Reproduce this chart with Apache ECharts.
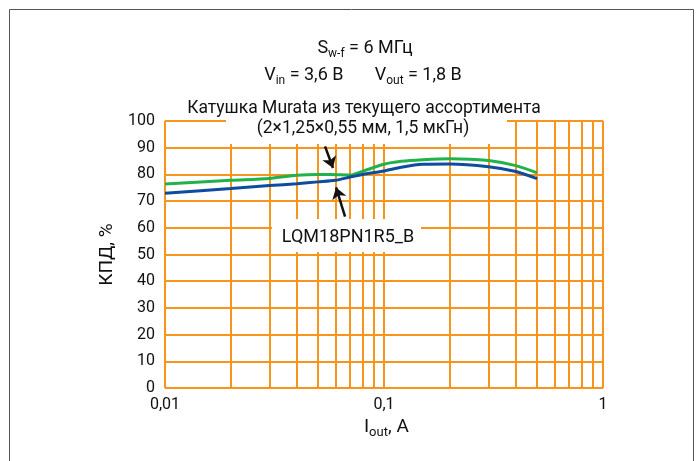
<!DOCTYPE html>
<html><head><meta charset="utf-8">
<script src="https://cdn.jsdelivr.net/npm/echarts@6/dist/echarts.min.js"></script>
<style>html,body{margin:0;padding:0;background:#fff}#c{width:700px;height:461px}</style>
</head><body><div id="c"></div>
<script>
const currents = [0.01,0.02,0.03,0.04,0.05,0.06,0.07,0.08,0.1,0.12,0.15,0.2,0.3,0.4,0.5];
const effGreen = [76.4,77.8,78.5,79.7,80.0,79.9,79.8,81.2,83.8,84.9,85.5,85.9,85.2,83.3,80.6];
const effBlue  = [72.9,74.7,75.8,76.5,77.2,77.8,79.0,80.0,81.3,82.7,83.8,83.9,82.9,81.1,78.4];
const minorX = [0.02,0.03,0.04,0.05,0.06,0.07,0.08,0.09,0.2,0.3,0.4,0.5,0.6,0.7,0.8,0.9];
const arrowDown = [[0.0538,90.5],[0.0585,82.4]];
const arrowUp = [[0.0664,64.2],[0.0604,75.1]];
const xTicks = {0.01:'0,01', 0.1:'0,1', 1:'1'};

const FONT = 'Roboto';
const ORANGE = '#f7941d';
const chart = echarts.init(document.getElementById('c'), null, {renderer:'canvas'});
const zip = (xs, ys) => xs.map((x,i)=>[x, ys[i]]);
const richSub = {
  a:{fontSize:18, color:'#111', fill:'#111', fontFamily:FONT, lineHeight:24},
  s:{fontSize:12, color:'#111', fill:'#111', fontFamily:FONT, lineHeight:10, verticalAlign:'bottom'}
};
const richAxis = {
  a:{fontSize:19, color:'#111', fontFamily:FONT, lineHeight:24},
  s:{fontSize:13, color:'#111', fontFamily:FONT, lineHeight:10, verticalAlign:'bottom'}
};

chart.setOption({
  animation:false,
  textStyle:{fontFamily:FONT},
  grid:{left:165, right:97, top:121, bottom:73, containLabel:false},
  xAxis:{
    type:'log', min:0.01, max:1, logBase:10, z:0,
    axisLine:{show:false}, axisTick:{show:false},
    splitLine:{show:true, lineStyle:{color:ORANGE, width:2}},
    axisLabel:{color:'#111', fontSize:16, margin:9, fontFamily:FONT,
      formatter:v=>{const k=Number(Number(v).toPrecision(3)); return xTicks[k]!==undefined?xTicks[k]:'';}},
    name:'{a| I}{s|out}{a|, A}', nameLocation:'middle', nameGap:27,
    nameTextStyle:{rich:richAxis}
  },
  yAxis:{
    type:'value', min:0, max:100, interval:10, z:0,
    axisLine:{show:false}, axisTick:{show:false},
    splitLine:{show:true, lineStyle:{color:ORANGE, width:2}},
    axisLabel:{color:'#111', fontSize:16, margin:10, fontFamily:FONT},
    name:'КПД, %', nameLocation:'middle', nameGap:46,
    nameTextStyle:{fontSize:19, color:'#111', fontFamily:FONT}
  },
  graphic:[
    {type:'rect', zlevel:1, z:1, shape:{x:9.5,y:9.5,width:684,height:470}, style:{fill:null, stroke:'#555', lineWidth:1}},
    {type:'rect', zlevel:1, z:1, shape:{x:226,y:92,width:281,height:52}, style:{fill:'#fff'}},
    {type:'rect', zlevel:1, z:1, shape:{x:272,y:219,width:149,height:33}, style:{fill:'#fff'}},
    {type:'text', zlevel:3, style:{x:365, y:36, textAlign:'center', textVerticalAlign:'top',
      text:'{a|S}{s|w-f}{a| = 6 МГц}', rich:richSub}},
    {type:'text', zlevel:3, style:{x:363, y:63, textAlign:'center', textVerticalAlign:'top',
      text:'{a|V}{s|in}{a| = 3,6 В       V}{s|out}{a| = 1,8 В}', rich:richSub}},
    {type:'text', zlevel:3, style:{text:'Катушка Murata из текущего ассортимента', x:364, y:109, fill:'#111',
      font:'17.5px '+FONT, textAlign:'center', textVerticalAlign:'middle'}},
    {type:'text', zlevel:3, style:{text:'(2×1,25×0,55 мм, 1,5 мкГн)', x:363, y:129, fill:'#111',
      font:'17.5px '+FONT, textAlign:'center', textVerticalAlign:'middle'}},
    {type:'text', zlevel:3, style:{text:'LQM18PN1R5_B', x:348, y:237, fill:'#111',
      font:'18px '+FONT, textAlign:'center', textVerticalAlign:'middle'}}
  ],
  series:[
    {type:'line', z:0, data:[], silent:true,
     markLine:{silent:true, symbol:'none', label:{show:false},
       lineStyle:{color:ORANGE, width:2, type:'solid'},
       data:minorX.map(x=>({xAxis:x}))}},
    {type:'line', zlevel:2, z:3, data:zip(currents, effGreen), smooth:0.25, symbol:'none',
     lineStyle:{color:'#21b24b', width:3}},
    {type:'line', zlevel:2, z:3, data:zip(currents, effBlue), smooth:0.25, symbol:'none',
     lineStyle:{color:'#0d4c9e', width:3}},
    {type:'line', zlevel:2, z:4, data:[], silent:true,
     markLine:{silent:true, symbol:['none','arrow'], symbolSize:11, label:{show:false},
       lineStyle:{color:'#111', width:2.5, type:'solid'},
       data:[
         [{coord:arrowDown[0]},{coord:arrowDown[1]}],
         [{coord:arrowUp[0]},{coord:arrowUp[1]}]
       ]}}
  ]
});
</script></body></html>
